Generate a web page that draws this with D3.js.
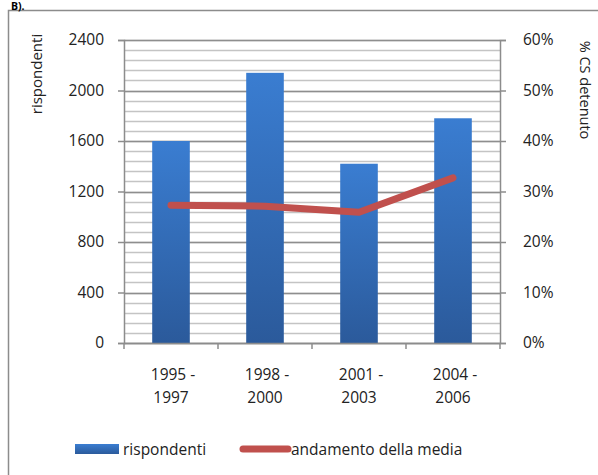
<!DOCTYPE html>
<html>
<head>
<meta charset="utf-8">
<script src="https://cdn.jsdelivr.net/npm/d3@7"></script>
<style>
  body { margin: 0; background: #fff; }
  svg { font-family: "Open Sans", "Noto Sans", sans-serif; }
</style>
</head>
<body>
<div id="chart"></div>
<script>
// data
const periods = [["1995 -", "1997"], ["1998 -", "2000"], ["2001 -", "2003"], ["2004 -", "2006"]];
const respondents = [1600, 2140, 1420, 1780];
const meanShare = [0.273, 0.271, 0.259, 0.327];
const leftTicks = [0, 400, 800, 1200, 1600, 2000, 2400];
const rightTicks = [0, 0.1, 0.2, 0.3, 0.4, 0.5, 0.6];

const W = 598, H = 475;
const plot = {left: 124, right: 500, top: 40, bottom: 343};
const fontSize = "15.5px";
const textColor = "#222";

const svg = d3.select("#chart").append("svg")
    .attr("width", W).attr("height", H);

// gradient for the bars
const grad = svg.append("defs").append("linearGradient")
    .attr("id", "barGrad").attr("x1", 0).attr("y1", 0).attr("x2", 0).attr("y2", 1);
grad.append("stop").attr("offset", "0%").attr("stop-color", "#3a7dd1");
grad.append("stop").attr("offset", "100%").attr("stop-color", "#2b5a9b");

// outer frame (runs off the picture)
svg.append("rect")
    .attr("x", 8.5).attr("y", 10.5)
    .attr("width", W + 10).attr("height", H + 10)
    .attr("fill", "none").attr("stroke", "#8c8c8c").attr("stroke-width", 1.5);

svg.append("text")
    .attr("x", 11).attr("y", 9.5)
    .style("font-size", "10.5px").style("font-weight", "bold")
    .text("B).");

const x = d3.scaleBand()
    .domain(periods.map((d, i) => i))
    .range([plot.left, plot.right])
    .paddingInner(0.6).paddingOuter(0.3);

const xOuter = d3.scaleBand()
    .domain(periods.map((d, i) => i))
    .range([plot.left, plot.right]);

const y = d3.scaleLinear().domain([0, 2400]).range([plot.bottom, plot.top]);
const y2 = d3.scaleLinear().domain([0, 0.6]).range([plot.bottom, plot.top]);

// minor gridlines every 2%
const g = svg.append("g");
g.selectAll(".minor")
    .data(d3.range(0, 0.6001, 0.02))
    .enter().append("line")
    .attr("x1", plot.left).attr("x2", plot.right)
    .attr("y1", d => Math.round(y2(d)) + 0.5).attr("y2", d => Math.round(y2(d)) + 0.5)
    .attr("stroke", "#c4c4c4").attr("stroke-width", 1.3);

// major gridlines
g.selectAll(".major")
    .data(leftTicks)
    .enter().append("line")
    .attr("x1", plot.left).attr("x2", plot.right)
    .attr("y1", d => Math.round(y(d)) + 0.5).attr("y2", d => Math.round(y(d)) + 0.5)
    .attr("stroke", "#8e8e8e").attr("stroke-width", 1.4);

// bars
svg.selectAll(".bar")
    .data(respondents)
    .enter().append("rect")
    .attr("x", (d, i) => x(i))
    .attr("width", x.bandwidth())
    .attr("y", d => y(d))
    .attr("height", d => plot.bottom - y(d))
    .attr("fill", "url(#barGrad)");

// axes
const axisColor = "#8c8c8c";
const leftAxis = svg.append("g")
    .attr("transform", `translate(${plot.left},0)`)
    .call(d3.axisLeft(y).tickValues(leftTicks).tickSize(6).tickPadding(14)
        .tickFormat(d3.format("d")));
const rightAxis = svg.append("g")
    .attr("transform", `translate(${plot.right},0)`)
    .call(d3.axisRight(y2).tickValues(rightTicks).tickSize(6).tickPadding(17)
        .tickFormat(d3.format(".0%")));
const bottomAxis = svg.append("g")
    .attr("transform", `translate(0,${plot.bottom})`)
    .call(d3.axisBottom(xOuter).tickSize(0).tickFormat(""));

[leftAxis, rightAxis, bottomAxis].forEach(a => {
    a.select(".domain").attr("stroke", axisColor).attr("stroke-width", 1.5);
    a.selectAll(".tick line").attr("stroke", axisColor).attr("stroke-width", 1.5);
    a.selectAll("text").style("font-size", fontSize).attr("fill", textColor)
        .style("font-family", "'Open Sans', sans-serif");
});

// category separators on the x axis
bottomAxis.selectAll(".sep")
    .data(d3.range(periods.length + 1))
    .enter().append("line")
    .attr("x1", i => plot.left + i * xOuter.step())
    .attr("x2", i => plot.left + i * xOuter.step())
    .attr("y1", 0).attr("y2", 6)
    .attr("stroke", axisColor).attr("stroke-width", 1.5);

// category labels (two lines)
const lab = svg.selectAll(".xlab")
    .data(periods)
    .enter().append("text")
    .attr("text-anchor", "middle")
    .style("font-size", fontSize).attr("fill", textColor);
lab.append("tspan")
    .attr("x", (d, i) => xOuter(i) + xOuter.bandwidth() / 2 + 2)
    .attr("y", 380).text(d => d[0]);
lab.append("tspan")
    .attr("x", (d, i) => xOuter(i) + xOuter.bandwidth() / 2)
    .attr("y", 403).text(d => d[1]);

// mean line
const line = d3.line()
    .x((d, i) => x(i) + x.bandwidth() / 2)
    .y(d => y2(d));
svg.append("path")
    .datum(meanShare)
    .attr("d", line)
    .attr("fill", "none")
    .attr("stroke", "#c0504d")
    .attr("stroke-width", 7)
    .attr("stroke-linecap", "round")
    .attr("stroke-linejoin", "round");

// axis titles
svg.append("text")
    .attr("transform", "translate(42,74) rotate(-90)")
    .attr("text-anchor", "middle")
    .style("font-size", "15px").attr("fill", textColor)
    .text("rispondenti");
svg.append("text")
    .attr("transform", "translate(580,90) rotate(90)")
    .attr("text-anchor", "middle")
    .style("font-size", "14.5px").attr("fill", textColor)
    .text("% CS detenuto");

// legend
const leg = svg.append("g");
leg.append("rect")
    .attr("x", 75).attr("y", 444).attr("width", 44).attr("height", 10)
    .attr("fill", "url(#barGrad)");
leg.append("text")
    .attr("x", 123).attr("y", 455)
    .style("font-size", fontSize).attr("fill", textColor)
    .text("rispondenti");
leg.append("line")
    .attr("x1", 243).attr("x2", 288).attr("y1", 449).attr("y2", 449)
    .attr("stroke", "#c0504d").attr("stroke-width", 7).attr("stroke-linecap", "round");
leg.append("text")
    .attr("x", 291).attr("y", 455)
    .style("font-size", fontSize).attr("fill", textColor)
    .text("andamento della media");
</script>
</body>
</html>
